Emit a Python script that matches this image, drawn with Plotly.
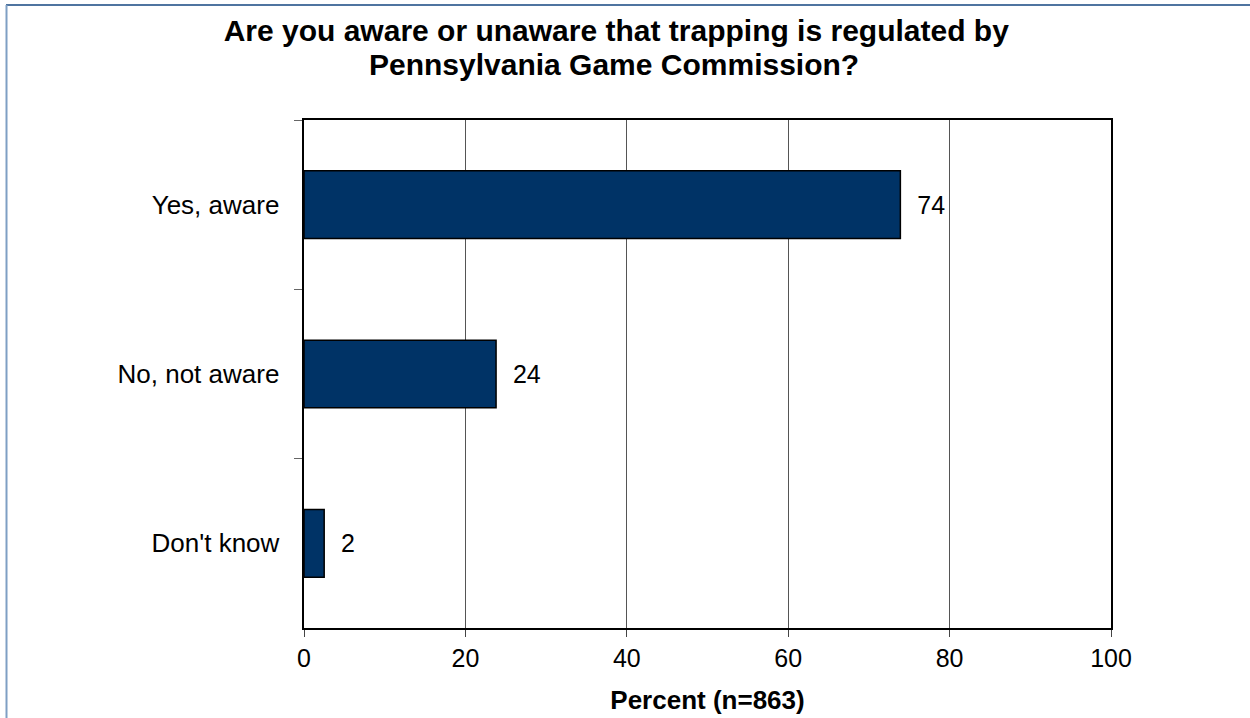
import plotly.graph_objects as go

categories = ["Yes, aware", "No, not aware", "Don't know"]
percent = [73.9, 23.8, 2.5]
x_ticks = [0, 20, 40, 60, 80, 100]
title_lines = ["Are you aware or unaware that trapping is regulated by",
               "Pennsylvania Game Commission?"]

W, H = 1250, 718
L, R, T, B = 304, 1111, 120, 628

def px(xp):
    return (xp - L) / (R - L)

def py(yp):
    return (B - yp) / (B - T)

NB = "\u00a0"

fig = go.Figure(go.Bar(
    y=categories, x=percent, orientation="h",
    width=0.4,
    marker=dict(color="#003366", line=dict(color="black", width=1.5)),
    text=[f"{NB}{NB}{v:.0f}" for v in percent], textposition="outside",
    textfont=dict(size=25, color="black", family="Liberation Sans, Arial"),
    cliponaxis=False,
))

fig.update_layout(
    width=W, height=H,
    margin=dict(l=L, r=W - R, t=T, b=H - B),
    paper_bgcolor="white", plot_bgcolor="white",
    font=dict(family="Liberation Sans, Arial", size=25, color="black"),
    title=dict(
        text="<b>" + title_lines[0] + "</b>",
        x=0.493, xanchor="center", y=1 - 30 / H, yanchor="middle",
        font=dict(size=30, color="black"),
    ),
    annotations=[dict(
        text="<b>" + title_lines[1] + "</b>", xref="paper", yref="paper",
        x=px(614), y=py(65), xanchor="center", yanchor="middle",
        showarrow=False, font=dict(size=30, color="black"),
    )],
    showlegend=False,
    shapes=[
        dict(type="line", xref="paper", yref="paper",
             x0=px(6), x1=px(1252), y0=py(5), y1=py(5),
             line=dict(color="#4f74a0", width=2)),
        dict(type="line", xref="paper", yref="paper",
             x0=px(6.5), x1=px(6.5), y0=py(5), y1=py(720),
             line=dict(color="#7f9fc4", width=2)),
    ],
)

fig.update_xaxes(
    range=[0, 100], tickvals=x_ticks, ticks="outside", ticklen=7, tickcolor="#444",
    showgrid=True, gridcolor="#555", gridwidth=1,
    showline=True, linecolor="black", linewidth=2, mirror=True,
    zeroline=False, automargin=False,
    tickfont=dict(size=25),
    title=dict(text="<b>Percent (n=863)</b>", font=dict(size=26), standoff=20),
)
fig.update_yaxes(
    autorange="reversed", tickson="boundaries", ticks="outside", ticklen=8, tickcolor="#666",
    showgrid=False, automargin=False,
    showline=True, linecolor="black", linewidth=2, mirror=True,
    tickfont=dict(size=26), ticksuffix=NB + NB, ticklabelstandoff=3,
)

fig.write_html("out.html", config={"displayModeBar": False},
               post_script="document.body.style.margin='0';document.body.style.overflow='hidden';")
